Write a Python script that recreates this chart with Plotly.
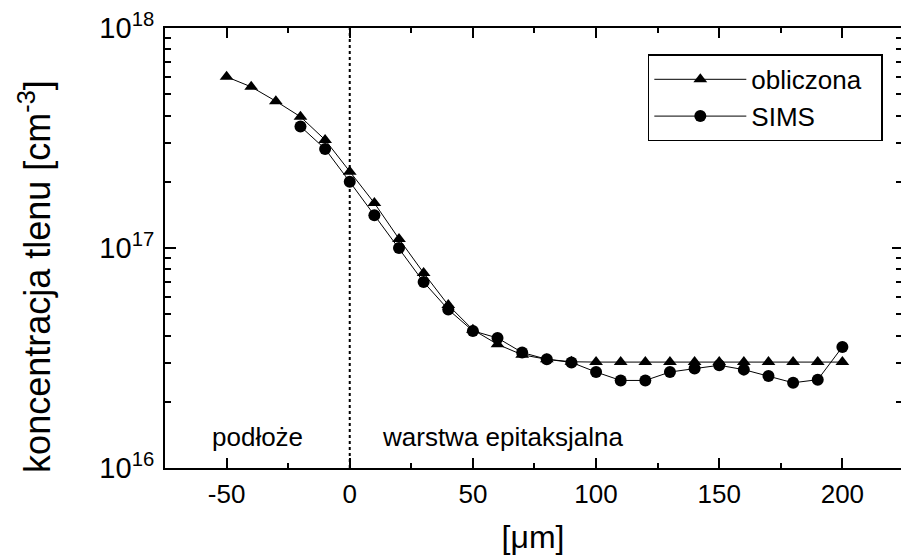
import plotly.graph_objects as go

# ---- data ----
x_calc = [-50, -40, -30, -20, -10, 0, 10, 20, 30, 40, 50, 60, 70, 80, 90,
          100, 110, 120, 130, 140, 150, 160, 170, 180, 190, 200]
y_calc = [6.0e17, 5.4e17, 4.65e17, 3.95e17, 3.1e17, 2.22e17, 1.6e17, 1.1e17,
          7.7e16, 5.5e16, 4.25e16, 3.65e16, 3.27e16, 3.12e16, 3.04e16,
          3.03e16, 3.03e16, 3.03e16, 3.03e16, 3.03e16, 3.03e16, 3.03e16,
          3.03e16, 3.03e16, 3.03e16, 3.03e16]

x_sims = [-20, -10, 0, 10, 20, 30, 40, 50, 60, 70, 80, 90, 100, 110, 120,
          130, 140, 150, 160, 170, 180, 190, 200]
y_sims = [3.57e17, 2.82e17, 2.0e17, 1.41e17, 1.0e17, 7.0e16, 5.25e16, 4.2e16,
          3.9e16, 3.35e16, 3.12e16, 3.02e16, 2.73e16, 2.5e16, 2.5e16, 2.73e16,
          2.83e16, 2.93e16, 2.8e16, 2.62e16, 2.44e16, 2.52e16, 3.55e16]

x_ticks = [-50, 0, 50, 100, 150, 200]
x_ticktext = ["-50", "0", "50", "100", "150", "200"]
y_ticks = [1e16, 1e17, 1e18]
y_ticktext = ["10<sup>16</sup>", "10<sup>17</sup>", "10<sup>18</sup>"]
y_minor = [m * 10 ** e for e in (16, 17) for m in range(2, 10)]

FONT = "Liberation Sans, Arial, Helvetica, sans-serif"

fig = go.Figure()
fig.add_trace(go.Scatter(
    x=x_calc, y=y_calc, mode="lines+markers", name="obliczona\u00a0\u00a0",
    line=dict(color="black", width=1),
    marker=dict(symbol="triangle-up", size=12, color="black"),
))
# SIMS trace on the (identical) right-hand log axis so that axis gets drawn
fig.add_trace(go.Scatter(
    x=x_sims, y=y_sims, mode="lines+markers", name="SIMS", yaxis="y2",
    line=dict(color="black", width=1),
    marker=dict(symbol="circle", size=12, color="black"),
))

# boundary line at x = 0
fig.add_shape(type="line", xref="x", yref="paper", x0=0, x1=0, y0=0, y1=1,
              line=dict(color="black", width=2, dash="dot"))

fig.add_annotation(x=-37.4, y=0.07, xref="x", yref="paper", text="podłoże",
                   showarrow=False, font=dict(size=26, color="black", family=FONT),
                   yanchor="middle")
fig.add_annotation(x=62, y=0.07, xref="x", yref="paper", text="warstwa epitaksjalna",
                   showarrow=False, font=dict(size=26, color="black", family=FONT),
                   yanchor="middle")

# y-axis title as annotation for exact placement
fig.add_annotation(x=-0.177, y=0.436, xref="paper", yref="paper",
                   text="koncentracja tlenu [cm<sup>-3</sup>]", textangle=-90,
                   showarrow=False, xanchor="center", yanchor="middle",
                   font=dict(size=36, color="black", family=FONT))

fig.update_layout(
    width=901, height=555,
    margin=dict(l=165, r=0, t=28, b=87),
    paper_bgcolor="white", plot_bgcolor="white",
    font=dict(family=FONT, color="black"),
    showlegend=True,
    legend=dict(
        x=0.656, y=0.94, xanchor="left", yanchor="top",
        bordercolor="black", borderwidth=1.5, bgcolor="white",
        font=dict(size=26, family=FONT, color="black"),
        itemwidth=92, tracegroupgap=0,
    ),
)

fig.update_xaxes(
    range=[-75, 223.8],
    tickvals=x_ticks, ticktext=x_ticktext,
    ticks="inside", ticklen=10, tickwidth=1.5, tickcolor="black",
    minor=dict(dtick=25, tick0=0, ticks="inside", ticklen=5, tickwidth=1.5,
               tickcolor="black"),
    showline=True, linecolor="black", linewidth=2, mirror="ticks",
    showgrid=False, zeroline=False,
    tickfont=dict(size=26, family=FONT, color="black"),
    ticklabelstandoff=2,
    title=dict(text="[μm]", font=dict(size=32, family=FONT, color="black"),
               standoff=22),
)

fig.update_yaxes(
    type="log", range=[16, 18],
    tickvals=y_ticks, ticktext=y_ticktext,
    ticks="inside", ticklen=11, tickwidth=1.5, tickcolor="black",
    minor=dict(tickvals=y_minor, ticks="inside", ticklen=6, tickwidth=1.5,
               tickcolor="black"),
    showline=True, linecolor="black", linewidth=2, mirror=False,
    showgrid=False, zeroline=False,
    tickfont=dict(size=29, family=FONT, color="black"),
    ticklabelstandoff=3,
)

# right-side ticks only (axis line falls just outside the picture in the reference)
fig.update_layout(yaxis2=dict(
    type="log", range=[16, 18], overlaying="y", side="right",
    tickvals=y_ticks, showticklabels=False,
    ticks="inside", ticklen=9, tickwidth=1.5, tickcolor="black",
    minor=dict(tickvals=y_minor, ticks="inside", ticklen=5, tickwidth=1.5,
               tickcolor="black"),
    showline=False, showgrid=False, zeroline=False,
))

fig.write_html("out.html")
